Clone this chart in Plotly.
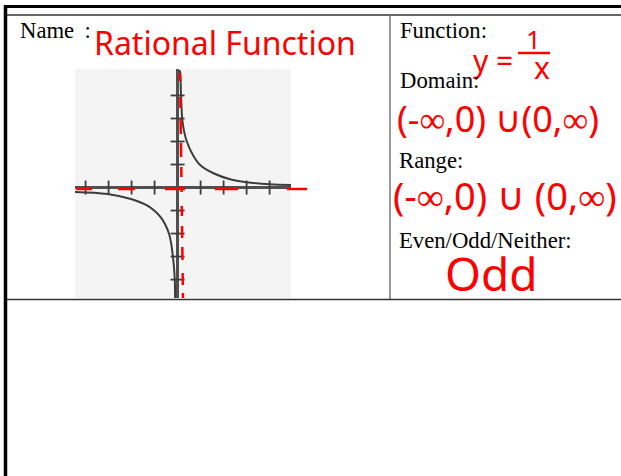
import plotly.graph_objects as go

W, H = 621, 476

# Curve y = 1/x (units on the small grid)
right_x = [0.08, 0.11, 0.15, 0.2, 0.28, 0.4, 0.69, 0.98, 1.56, 2.28, 3.0, 4.0, 4.93]
right_y = [5.1, 5.0, 4.0, 3.0, 2.45, 2.0, 1.37, 0.98, 0.62, 0.36, 0.23, 0.14, 0.11]
left_x = [-4.46, -3.05, -2.03, -1.31, -0.73, -0.37, -0.2, -0.12, -0.11]
left_y = [-0.19, -0.28, -0.5, -0.79, -1.3, -2.02, -3.03, -4.05, -4.8]

# Tick marks along both axes
tick_vals = [-4, -3, -2, -1, 1, 2, 3, 4]

# Hand-drawn red asymptote dashes (page pixels)
h_dashes = [(76, 92), (118, 135), (165, 185), (215, 238), (287, 307)]
h_dash_y = 189
v_dashes = [(73, 81), (97, 108), (119, 134), (143, 157), (167, 177), (186, 192),
            (206, 216), (226, 238), (247, 260), (273, 285), (293, 298)]

# Labels
name_label = "Name\u00a0\u2009:"
name_answer = "Rational Function"
function_label = "Function:"
domain_label = "Domain:"
domain_answer = "(-\u221e,0) \u222a(0,\u221e)"
range_label = "Range:"
range_answer = "(-\u221e,0) \u222a (0,\u221e)"
parity_label = "Even/Odd/Neither:"
parity_answer = "Odd"

RED = "#ff0000"
INK = "#3c3c3c"
SERIF = "Liberation Serif"
HAND = "Noto Sans"
LABEL_SIZE = 22.7


def px(x):
    return x / W


def py(y):
    return 1 - y / H


fig = go.Figure()

fig.add_trace(go.Scatter(x=right_x, y=right_y, mode="lines",
                         line=dict(color=INK, width=2, shape="spline"),
                         showlegend=False, hoverinfo="skip"))
fig.add_trace(go.Scatter(x=left_x, y=left_y, mode="lines",
                         line=dict(color=INK, width=2, shape="spline"),
                         showlegend=False, hoverinfo="skip"))
fig.add_trace(go.Scatter(x=tick_vals, y=[0] * len(tick_vals), mode="markers",
                         marker=dict(symbol="line-ns", size=10,
                                     line=dict(color=INK, width=1.8)),
                         showlegend=False, hoverinfo="skip", cliponaxis=False))
fig.add_trace(go.Scatter(x=[0] * len(tick_vals), y=tick_vals, mode="markers",
                         marker=dict(symbol="line-ew", size=10,
                                     line=dict(color=INK, width=1.8)),
                         showlegend=False, hoverinfo="skip", cliponaxis=False))

fig.update_layout(
    width=W, height=H,
    margin=dict(l=0, r=0, t=0, b=0),
    paper_bgcolor="white",
    plot_bgcolor="#f4f4f4",
    xaxis=dict(domain=[px(75), px(291)], range=[-4.46, 4.93],
               showgrid=False, showticklabels=False, ticks="",
               zeroline=True, zerolinecolor="#505050", zerolinewidth=2.5,
               fixedrange=True),
    yaxis=dict(domain=[py(298), py(69)], range=[-4.8, 5.15],
               showgrid=False, showticklabels=False, ticks="",
               zeroline=True, zerolinecolor="#505050", zerolinewidth=2.5,
               fixedrange=True),
)

shapes = []


def line(x0, y0, x1, y1, color, width):
    shapes.append(dict(type="line", xref="paper", yref="paper",
                       x0=px(x0), y0=py(y0), x1=px(x1), y1=py(y1),
                       line=dict(color=color, width=width)))


# Table frame
line(4, 6.5, W, 6.5, "#000000", 3)
line(7, 15, W, 15, "#333333", 1.5)
line(5.5, 5, 5.5, H, "#000000", 3.5)
line(390, 15, 390, 300, "#7a7a7a", 1.5)
line(7, 299.5, W, 299.5, "#333333", 1.5)

# Red asymptote dashes
for a, b in h_dashes:
    line(a, h_dash_y, b, h_dash_y, RED, 2.5)
for a, b in v_dashes:
    line(180 + (a - 73) / 225 * 3, a, 180 + (b - 73) / 225 * 3, b, RED, 2.5)

# Fraction bar of y = 1/x
line(518, 53, 550, 53, RED, 2.5)

fig.update_layout(shapes=shapes)


def note(text, x, y, size, color, family, xanchor="left"):
    fig.add_annotation(text=text, x=px(x), y=py(y), xref="paper", yref="paper",
                       xanchor=xanchor, yanchor="middle", showarrow=False,
                       font=dict(size=size, color=color, family=family))


note(name_label, 18, 30.5, LABEL_SIZE, "#000000", SERIF)
note(name_answer, 92, 42, 32, RED, HAND)
note(function_label, 398, 30.5, LABEL_SIZE, "#000000", SERIF)
note("y =", 471, 60, 30, RED, HAND)
note("1", 533, 39, 26, RED, HAND, xanchor="center")
note("x", 542, 68, 30, RED, HAND, xanchor="center")
note(domain_label, 398, 80, LABEL_SIZE, "#000000", SERIF)
note(domain_answer, 395, 118, 36, RED, HAND)
note(range_label, 397, 160, LABEL_SIZE, "#000000", SERIF)
note(range_answer, 391, 195, 38, RED, HAND)
note(parity_label, 397, 240, LABEL_SIZE, "#000000", SERIF)
note(parity_answer, 443, 273, 46, RED, HAND)

fig.write_html("out.html")
